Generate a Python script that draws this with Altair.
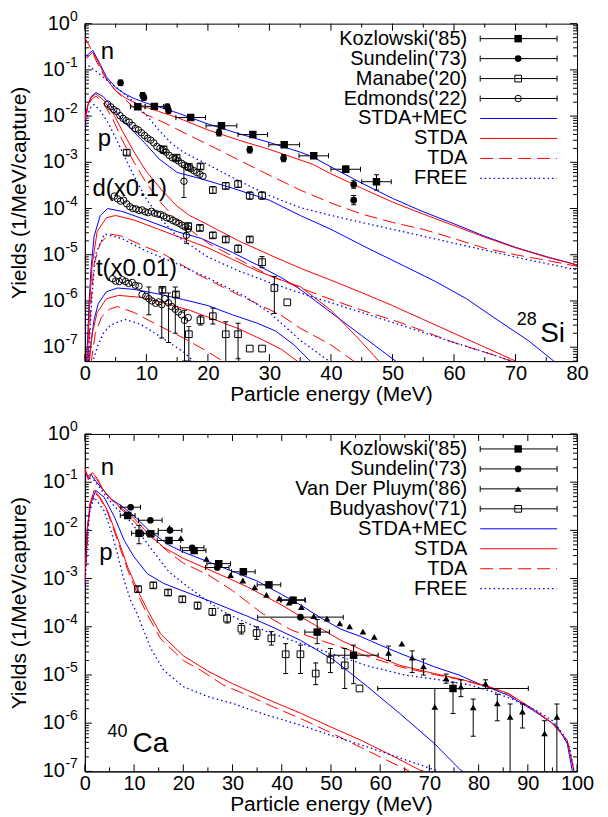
import altair as alt
import pandas as pd

FONT = "Liberation Sans"
BLUE = "#0000ff"
RED = "#ff0000"
W, H = 493, 338

# =================== 28Si panel : theory curves (E in MeV, log10 yield) ===================
si_n_mec_E = [0, 1.3, 2.5, 3.5, 5, 6.5, 8, 10, 12, 15, 20, 25, 30, 35, 37, 40, 45, 50, 55, 60, 65, 70, 75, 80]
si_n_mec_lg = [-0.72, -0.58, -0.88, -1.15, -1.38, -1.52, -1.62, -1.72, -1.80, -1.93, -2.17, -2.38, -2.57, -2.78, -2.88, -3.10, -3.45, -3.78, -4.07, -4.33, -4.60, -4.84, -5.04, -5.22]
si_n_stda_E = [0, 1.3, 2.5, 3.5, 5, 6.5, 8, 10, 12, 15, 20, 25, 30, 35, 37, 40, 45, 50, 55, 60, 65, 70, 75, 80]
si_n_stda_lg = [-0.78, -0.62, -0.92, -1.20, -1.45, -1.60, -1.70, -1.81, -1.90, -2.03, -2.30, -2.52, -2.72, -2.95, -3.04, -3.25, -3.56, -3.86, -4.12, -4.37, -4.62, -4.85, -5.05, -5.22]
si_n_tda_E = [0, 1, 2, 3, 5, 8, 10, 13, 17, 21, 25, 30, 35, 40, 45, 50, 55, 60, 65, 70, 75, 80]
si_n_tda_lg = [-0.30, -0.55, -0.85, -1.10, -1.45, -1.82, -1.97, -2.15, -2.42, -2.68, -2.95, -3.28, -3.60, -3.88, -4.12, -4.30, -4.45, -4.65, -4.86, -5.00, -5.12, -5.25]
si_n_free_E = [0, 2, 4, 6, 8, 10, 12, 14, 16, 20, 25, 30, 35, 40, 50, 60, 70, 80]
si_n_free_lg = [-0.85, -1.05, -1.27, -1.47, -1.70, -1.98, -2.30, -2.58, -2.78, -3.05, -3.40, -3.72, -3.98, -4.15, -4.45, -4.75, -5.05, -5.33]

si_p_mec_E = [0, 0.5, 1, 1.8, 3, 4.5, 6.5, 8, 10, 12, 15, 19, 24, 30, 35, 40, 46, 52, 57, 62, 67.5, 72, 76.5]
si_p_mec_lg = [-2.03, -1.75, -1.58, -1.49, -1.58, -1.82, -2.15, -2.35, -2.62, -2.92, -3.22, -3.36, -3.56, -3.82, -4.15, -4.45, -4.86, -5.25, -5.58, -5.95, -6.45, -6.85, -7.33]
si_p_stda_E = [0, 0.5, 1, 1.8, 3, 4.5, 6, 8, 10, 12.5, 15, 17, 20, 25, 30, 35, 40, 45, 50, 55, 60, 65, 70]
si_p_stda_lg = [-2.05, -1.77, -1.60, -1.52, -1.65, -1.92, -2.30, -2.78, -3.20, -3.60, -3.95, -4.15, -4.35, -4.70, -5.00, -5.29, -5.55, -5.82, -6.10, -6.40, -6.70, -7.00, -7.30]
si_p_tda_E = [0, 0.5, 1, 1.8, 3, 4.5, 6, 8, 10, 12.5, 15, 20, 25, 30, 38, 45, 52, 60, 66, 70]
si_p_tda_lg = [-2.10, -1.82, -1.65, -1.57, -1.72, -2.05, -2.50, -3.00, -3.45, -3.90, -4.25, -4.75, -5.10, -5.45, -5.87, -6.20, -6.50, -6.90, -7.15, -7.33]
si_p_free_E = [0, 0.5, 1, 1.5, 2.5, 4, 6, 8, 10, 12.5, 15, 20, 25, 30, 36, 45, 52, 60, 66, 70]
si_p_free_lg = [-2.30, -1.95, -1.80, -1.75, -1.88, -2.20, -2.75, -3.30, -3.80, -4.25, -4.60, -5.05, -5.35, -5.60, -5.87, -6.25, -6.55, -6.90, -7.15, -7.33]

si_d_mec_E = [0.3, 0.7, 1, 1.5, 2.5, 3.7, 6, 10, 15, 19, 24, 28, 32, 35, 40, 45, 50.8]
si_d_mec_lg = [-7.3, -6.0, -5.3, -4.6, -4.15, -4.0, -4.06, -4.25, -4.5, -4.65, -4.95, -5.22, -5.5, -5.75, -6.25, -6.75, -7.33]
si_d_stda_E = [0.4, 0.8, 1.2, 2, 3.5, 5, 8, 12, 16, 20, 24, 28, 32, 35, 40, 44, 48]
si_d_stda_lg = [-7.3, -6.0, -5.2, -4.5, -4.2, -4.15, -4.25, -4.45, -4.65, -4.85, -5.1, -5.35, -5.55, -5.69, -6.2, -6.75, -7.33]
si_d_tda_E = [0.5, 1, 1.5, 2.5, 4, 6, 9, 13, 18, 25, 31.8, 35, 40, 44]
si_d_tda_lg = [-7.3, -6.0, -5.2, -4.75, -4.55, -4.6, -4.78, -5.0, -5.4, -5.87, -6.3, -6.59, -6.95, -7.33]
si_d_free_E = [0.6, 1.1, 1.7, 3.2, 6, 10, 15, 20, 26, 30, 35, 40]
si_d_free_lg = [-7.3, -6.0, -5.0, -4.55, -4.65, -4.92, -5.2, -5.5, -5.9, -6.25, -6.85, -7.33]

si_t_mec_E = [0.6, 1, 1.5, 2.2, 3.5, 5.3, 8, 12, 16, 20, 24, 28, 31, 34, 37]
si_t_mec_lg = [-7.35, -6.9, -6.4, -6.05, -5.8, -5.72, -5.75, -5.85, -5.97, -6.1, -6.3, -6.48, -6.65, -6.95, -7.35]
si_t_stda_E = [0.7, 1.2, 2, 3.5, 5.5, 9, 13, 17, 21, 25, 29, 32, 35]
si_t_stda_lg = [-7.35, -6.7, -6.25, -5.95, -5.88, -5.92, -6.05, -6.2, -6.4, -6.6, -6.85, -7.05, -7.35]
si_t_tda_E = [1, 1.7, 2.7, 4, 5.3, 8, 11.8, 16, 20, 23]
si_t_tda_lg = [-7.35, -6.7, -6.35, -6.18, -6.12, -6.25, -6.52, -6.8, -7.1, -7.35]
si_t_free_E = [1.2, 2, 3, 4.2, 6.5, 9, 12, 16, 18]
si_t_free_lg = [-7.35, -7.0, -6.7, -6.52, -6.4, -6.5, -6.75, -7.1, -7.35]

# =================== 28Si panel : measured data ===================
si_koz_E = [8.6, 11.3, 17.2, 22.2, 27.3, 32.4, 37.2, 42.4, 47.4]
si_koz_lg = [-1.80, -1.79, -2.03, -2.21, -2.40, -2.62, -2.86, -3.15, -3.42]
si_koz_lo = [-1.84, -1.83, -2.07, -2.25, -2.44, -2.67, -2.92, -3.22, -3.60]
si_koz_hi = [-1.76, -1.75, -1.99, -2.17, -2.36, -2.57, -2.80, -3.08, -3.27]
si_koz_dE = [1.2, 1.5, 2.4, 2.5, 2.4, 2.5, 2.4, 2.4, 2.4]

si_sun_E = [5.8, 9.4, 9.6, 13.4, 13.6, 21.8, 26.8, 32.3, 43.7, 43.7]
si_sun_lg = [-1.28, -1.55, -1.60, -1.80, -1.88, -2.36, -2.73, -2.91, -3.48, -3.82]
si_sun_lo = [-1.34, -1.61, -1.66, -1.86, -1.94, -2.43, -2.80, -2.99, -3.56, -3.92]
si_sun_hi = [-1.22, -1.49, -1.54, -1.74, -1.82, -2.29, -2.66, -2.83, -3.40, -3.72]

si_manp_E = [6.8, 12.8, 14.9, 16.9, 18.8, 20.8, 22.9, 24.9, 26.8, 28.8]
si_manp_lg = [-2.79, -2.72, -2.90, -3.10, -3.09, -3.60, -3.51, -3.47, -3.72, -3.72]
si_manp_lo = [-2.85, -2.78, -2.96, -3.16, -3.15, -3.67, -3.58, -3.54, -3.80, -3.80]
si_manp_hi = [-2.73, -2.66, -2.84, -3.04, -3.03, -3.53, -3.44, -3.40, -3.64, -3.64]

si_mand_E = [16.8, 18.7, 20.8, 22.9, 24.9, 26.8, 28.8, 30.8, 32.9]
si_mand_lg = [-4.38, -4.42, -4.58, -4.67, -4.87, -4.67, -5.16, -5.72, -6.03]
si_mand_lo = [-4.44, -4.48, -4.64, -4.73, -4.95, -4.73, -5.28, -6.27, -6.03]
si_mand_hi = [-4.32, -4.36, -4.52, -4.61, -4.79, -4.61, -5.04, -5.47, -6.03]

si_mant_E = [12.6, 14.8, 16.9, 18.8, 20.8, 22.9, 24.9, 26.8, 28.8]
si_mant_lg = [-5.76, -5.86, -6.72, -6.42, -6.33, -6.72, -6.72, -7.03, -7.03]
si_mant_lo = [-5.82, -5.92, -7.30, -6.52, -6.50, -7.32, -7.25, -7.03, -7.03]
si_mant_hi = [-5.70, -5.80, -6.55, -6.32, -6.15, -6.45, -6.48, -7.03, -7.03]

si_edmp_E = [3.7, 4.2, 4.7, 5.2, 5.7, 6.2, 6.7, 7.2, 7.7, 8.2, 8.7, 9.2, 9.7, 10.2, 10.7, 11.2, 11.7, 12.2, 12.7, 13.2, 13.7, 14.2, 14.7, 15.2, 15.7, 16.2, 16.7, 17.2, 17.7, 18.2, 18.7, 19.2, 16.1]
si_edmp_lg = [-1.74, -1.80, -1.86, -1.90, -1.99, -2.05, -2.10, -2.13, -2.20, -2.27, -2.30, -2.36, -2.42, -2.48, -2.52, -2.58, -2.66, -2.70, -2.75, -2.78, -2.85, -2.90, -2.93, -2.97, -3.02, -3.06, -3.10, -3.14, -3.18, -3.22, -3.26, -3.30, -3.41]
si_edmp_lo = si_edmp_lg[:-1] + [-3.76]
si_edmp_hi = si_edmp_lg[:-1] + [-3.11]

si_edmd_E = [4.8, 5.3, 5.8, 6.3, 6.8, 7.3, 7.8, 8.3, 8.8, 9.3, 9.8, 10.3, 10.8, 11.3, 11.8, 12.3, 12.8, 13.3, 13.8, 14.3, 14.8, 15.3, 15.8, 16.3, 16.8, 16.5]
si_edmd_lg = [-3.73, -3.79, -3.84, -3.82, -3.90, -3.96, -4.00, -4.01, -4.04, -4.03, -4.07, -4.09, -4.06, -4.10, -4.12, -4.13, -4.16, -4.20, -4.22, -4.26, -4.29, -4.32, -4.36, -4.40, -4.44, -4.58]
si_edmd_lo = si_edmd_lg[:-1] + [-4.75]
si_edmd_hi = si_edmd_lg[:-1] + [-4.42]

si_edmt_E = [4.5, 5.0, 5.6, 6.1, 6.6, 7.1, 7.7, 8.2, 8.8, 9.3, 9.9, 10.4, 10.9, 11.5, 12.0, 12.5, 13.0, 13.6, 14.1, 14.7, 15.2, 15.7, 16.2, 16.8]
si_edmt_lg = [-5.52, -5.57, -5.58, -5.54, -5.58, -5.62, -5.60, -5.66, -5.68, -5.86, -5.90, -5.95, -6.00, -6.05, -6.02, -6.08, -5.95, -6.04, -6.12, -6.18, -6.24, -6.30, -6.42, -6.36]
si_edmt_lo = [-5.52, -5.57, -5.58, -5.54, -5.58, -5.62, -5.60, -5.66, -5.68, -5.86, -5.90, -6.30, -6.00, -6.05, -6.02, -6.80, -5.95, -6.90, -6.12, -6.70, -6.24, -6.30, -7.30, -6.36]
si_edmt_hi = [-5.52, -5.57, -5.58, -5.54, -5.58, -5.62, -5.60, -5.66, -5.68, -5.86, -5.90, -5.70, -6.00, -6.05, -6.02, -5.72, -5.95, -5.83, -6.12, -5.70, -6.24, -6.30, -6.20, -6.36]

# =================== 40Ca panel : theory curves ===================
ca_n_mec_E = [0, 0.6, 1.2, 2, 3.2, 5.3, 7.3, 10, 13, 17, 20, 25, 30, 35, 40, 44, 48, 52, 56, 60, 64, 71, 76, 80, 86, 91, 96, 98, 99, 99.4]
ca_n_mec_lg = [-0.85, -0.88, -0.83, -0.95, -1.10, -1.35, -1.48, -1.70, -2.0, -2.3, -2.45, -2.65, -2.85, -3.05, -3.33, -3.56, -3.82, -4.05, -4.2, -4.38, -4.55, -4.83, -5.0, -5.18, -5.42, -5.73, -6.07, -6.42, -6.97, -7.0]
ca_n_stda_E = [0, 0.7, 1.5, 2.5, 3.5, 5, 7, 10, 13, 16, 20, 26, 33, 40, 46, 52, 58, 64, 71, 76, 82, 86, 91, 95, 98, 99.4]
ca_n_stda_lg = [-0.75, -0.95, -0.80, -0.92, -1.12, -1.33, -1.5, -1.75, -2.08, -2.35, -2.58, -2.85, -3.17, -3.55, -3.92, -4.28, -4.56, -4.8, -4.97, -5.08, -5.24, -5.38, -5.70, -6.0, -6.35, -7.0]
ca_n_tda_E = [0, 0.8, 1.5, 2.5, 4, 6, 8, 11, 14, 17, 20, 25, 30, 36, 42, 47, 52, 57, 64, 71, 76, 82, 86, 91, 95, 98, 99.4]
ca_n_tda_lg = [-0.72, -0.92, -0.84, -0.95, -1.2, -1.43, -1.62, -1.92, -2.18, -2.45, -2.68, -2.92, -3.25, -3.72, -4.07, -4.25, -4.42, -4.6, -4.83, -4.99, -5.09, -5.25, -5.39, -5.71, -6.01, -6.36, -7.0]
ca_n_free_E = [0, 1, 2, 4, 6, 8.7, 11.4, 14, 17, 20, 24, 28, 32, 37, 44, 50, 57, 65, 72, 78, 83, 88, 92, 95, 97, 98.5, 99.4]
ca_n_free_lg = [-0.95, -0.92, -0.97, -1.25, -1.5, -1.75, -2.1, -2.45, -2.85, -3.1, -3.4, -3.68, -3.88, -4.1, -4.35, -4.55, -4.8, -5.0, -5.1, -5.2, -5.35, -5.55, -5.75, -5.95, -6.2, -6.5, -7.0]

ca_p_mec_E = [0, 0.5, 1.2, 2.2, 3.9, 6, 8, 10, 12.7, 16, 19.5, 26, 33, 38, 43.8, 50.6, 57.4, 64, 71, 76.3, 76.8]
ca_p_mec_lg = [-3.1, -1.93, -1.45, -1.17, -1.31, -1.72, -2.21, -2.55, -2.9, -3.1, -3.24, -3.49, -3.78, -4.0, -4.28, -4.69, -5.24, -5.8, -6.42, -6.97, -7.0]
ca_p_stda_E = [0, 0.5, 1, 1.9, 3, 4.6, 6.6, 8.7, 10.7, 12.7, 15.4, 20, 25, 30, 37, 44, 50, 56, 62, 68, 69]
ca_p_stda_lg = [-3.1, -2.0, -1.45, -1.17, -1.3, -1.59, -2.14, -2.76, -3.24, -3.65, -4.15, -4.6, -4.92, -5.18, -5.5, -5.8, -6.08, -6.35, -6.65, -6.97, -7.0]
ca_p_tda_E = [0, 0.5, 1, 1.9, 3, 4.6, 6.6, 8.7, 10.7, 12.7, 15.4, 20, 23.5, 28, 33.7, 38, 43.8, 50, 56, 62, 66]
ca_p_tda_lg = [-3.1, -2.05, -1.5, -1.2, -1.33, -1.62, -2.2, -2.82, -3.32, -3.75, -4.25, -4.7, -4.9, -5.2, -5.45, -5.65, -5.9, -6.2, -6.5, -6.8, -7.0]
ca_p_free_E = [0, 0.5, 1, 1.9, 3.9, 5.3, 6.6, 8, 9.3, 10.5, 13.4, 16, 20, 25, 30, 36, 43.8, 50, 57, 64, 72]
ca_p_free_lg = [-3.3, -2.2, -1.6, -1.31, -1.59, -2.0, -2.48, -3.05, -3.45, -3.7, -4.45, -4.9, -5.24, -5.45, -5.59, -5.8, -6.04, -6.25, -6.48, -6.72, -7.0]

# =================== 40Ca panel : measured data ===================
ca_koz_E = [8.7, 11.0, 13.4, 17.1, 22.2, 27.2, 32.2, 37.4, 42.3, 47.2, 54.6, 74.8]
ca_koz_lg = [-1.69, -2.06, -2.07, -2.21, -2.42, -2.69, -2.86, -3.13, -3.45, -4.11, -4.59, -5.28]
ca_koz_lo = [-1.73, -2.28, -2.11, -2.25, -2.46, -2.73, -2.90, -3.17, -3.50, -4.35, -5.18, -5.80]
ca_koz_hi = [-1.65, -1.90, -2.03, -2.17, -2.38, -2.65, -2.82, -3.09, -3.40, -3.85, -4.38, -5.15]
ca_koz_dE = [1.5, 1.5, 1.5, 2.4, 2.4, 2.4, 2.4, 2.4, 2.5, 2.5, 5.0, 15.3]

ca_sun_E = [9.3, 13.3, 17.3, 21.8, 26.9, 42.3, 43.8]
ca_sun_lg = [-1.52, -1.79, -2.00, -2.36, -2.77, -3.44, -3.80]
ca_sun_dE = [2.0, 2.4, 2.4, 2.4, 2.4, 2.4, 8.7]

ca_vdp_E = [17.2, 19.5, 24.7, 29.6, 32.1, 34.5, 36.9, 39.5, 41.5, 44.0, 46.5, 49.2, 51.8, 53.8, 56.5, 58.8, 61.7, 64.4, 66.5, 68.8, 71.1, 73.4, 76.4, 78.9, 81.4, 83.8, 86.4, 88.9, 93.4, 95.9]
ca_vdp_lg = [-1.95, -2.16, -2.59, -2.93, -3.04, -3.18, -3.34, -3.41, -3.50, -3.59, -3.78, -3.83, -3.93, -3.99, -4.10, -4.21, -4.54, -4.35, -4.64, -4.82, -5.66, -5.07, -5.24, -5.67, -5.18, -5.59, -5.87, -5.76, -6.21, -5.87]
ca_vdp_lo = [-1.95, -2.16, -2.59, -2.93, -3.04, -3.18, -3.34, -3.41, -3.50, -3.59, -3.78, -3.83, -3.93, -3.99, -4.10, -4.21, -4.70, -4.35, -4.95, -5.00, -7.00, -5.17, -5.45, -6.27, -5.28, -5.95, -7.00, -6.10, -7.00, -7.00]
ca_vdp_hi = [-1.95, -2.16, -2.59, -2.93, -3.04, -3.18, -3.34, -3.41, -3.50, -3.59, -3.78, -3.83, -3.93, -3.99, -4.10, -4.21, -4.40, -4.35, -4.50, -4.67, -5.28, -4.98, -5.10, -5.50, -5.10, -5.40, -5.60, -5.60, -5.95, -5.60]

ca_bud_E = [10.8, 13.9, 16.9, 19.8, 22.9, 25.9, 28.9, 31.8, 34.9, 37.9, 40.8, 43.8, 46.9, 49.9, 52.8, 55.8]
ca_bud_lg = [-3.22, -3.14, -3.29, -3.43, -3.56, -3.69, -3.83, -4.04, -4.13, -4.24, -4.57, -4.57, -4.97, -4.68, -4.80, -5.28]
ca_bud_lo = [-3.28, -3.20, -3.35, -3.49, -3.63, -3.76, -3.92, -4.15, -4.26, -4.38, -4.97, -4.97, -5.20, -4.95, -5.28, -5.28]
ca_bud_hi = [-3.16, -3.08, -3.23, -3.37, -3.49, -3.62, -3.74, -3.93, -4.00, -4.10, -4.35, -4.38, -4.75, -4.45, -4.45, -5.28]

# =================== axes / legend text ===================
si_x_major = [0, 10, 20, 30, 40, 50, 60, 70, 80]
si_x_minor = [5, 15, 25, 35, 45, 55, 65, 75]
ca_x_major = [0, 10, 20, 30, 40, 50, 60, 70, 80, 90, 100]
ca_x_minor = [5, 15, 25, 35, 45, 55, 65, 75, 85, 95]
y_major = [1, 1e-1, 1e-2, 1e-3, 1e-4, 1e-5, 1e-6, 1e-7]
y_exponent = ["0", "-1", "-2", "-3", "-4", "-5", "-6", "-7"]
y_minor_mult = [2, 3, 4, 5, 6, 7, 8, 9]
si_legend = ["Kozlowski('85)", "Sundelin('73)", "Manabe('20)", "Edmonds('22)", "STDA+MEC", "STDA", "TDA", "FREE"]
ca_legend = ["Kozlowski('85)", "Sundelin('73)", "Van Der Pluym('86)", "Budyashov('71)", "STDA+MEC", "STDA", "TDA", "FREE"]


def curve(E, lg, sp):
    return pd.DataFrame({"E": E, "Y": [10.0 ** v for v in lg], "sp": sp})


def pts(E, lg, lo=None, hi=None, dE=None):
    n = len(E)
    lo = lo if lo is not None else lg
    hi = hi if hi is not None else lg
    d = dE if dE is not None else [0] * n
    return pd.DataFrame({
        "E": E, "Y": [10.0 ** v for v in lg],
        "lo": [10.0 ** v for v in lo], "hi": [10.0 ** v for v in hi],
        "xlo": [e - x for e, x in zip(E, d)], "xhi": [e + x for e, x in zip(E, d)],
    })


def panel(xdom, ydom, xmaj, xmin, curves, datasets, legend_labels, legend_markers, texts):
    xs = alt.Scale(domain=xdom, nice=False, zero=False)
    ys = alt.Scale(type="log", domain=ydom, nice=False)
    xaxis = alt.Axis(values=xmaj, ticks=False, labelPadding=2, labelFlush=False, labelOverlap=False,
                     title="Particle energy (MeV)", titlePadding=0, grid=False, format="d")
    yaxis = alt.Axis(values=y_major, ticks=False, labels=False,
                     title="Yields (1/MeV/capture)", titlePadding=55, grid=False)
    X = lambda f: alt.X(f"{f}:Q", scale=xs, axis=xaxis)
    Y = lambda f: alt.Y(f"{f}:Q", scale=ys, axis=yaxis)
    layers = []

    ymin_vals = [m * v * 0.1 for v in y_major for m in y_minor_mult if ydom[0] <= m * v * 0.1 <= ydom[1]]
    xmajdf = pd.DataFrame({"v": xmaj})
    xmindf = pd.DataFrame({"v": xmin})
    ymajdf = pd.DataFrame({"v": y_major, "ex": y_exponent})
    ymindf = pd.DataFrame({"v": ymin_vals})
    # inward ticks on all four sides
    layers.append(alt.Chart(xmajdf).mark_rule(color="black").encode(x=X("v"), y=alt.value(H), y2=alt.value(H - 7)))
    layers.append(alt.Chart(xmajdf).mark_rule(color="black").encode(x=X("v"), y=alt.value(0), y2=alt.value(7)))
    layers.append(alt.Chart(xmindf).mark_rule(color="black").encode(x=X("v"), y=alt.value(H), y2=alt.value(H - 4)))
    layers.append(alt.Chart(xmindf).mark_rule(color="black").encode(x=X("v"), y=alt.value(0), y2=alt.value(4)))
    layers.append(alt.Chart(ymajdf).mark_rule(color="black").encode(y=Y("v"), x=alt.value(0), x2=alt.value(7)))
    layers.append(alt.Chart(ymajdf).mark_rule(color="black").encode(y=Y("v"), x=alt.value(W - 7), x2=alt.value(W)))
    layers.append(alt.Chart(ymindf).mark_rule(color="black").encode(y=Y("v"), x=alt.value(0), x2=alt.value(4)))
    layers.append(alt.Chart(ymindf).mark_rule(color="black").encode(y=Y("v"), x=alt.value(W - 4), x2=alt.value(W)))

    # y tick labels: "10" with a raised exponent
    ylab = alt.Chart(ymajdf).transform_calculate(lx="datum.ex == '0' ? -15 : -20")
    layers.append(ylab.mark_text(align="right", baseline="middle", fontSize=20, font=FONT, color="black").encode(
        x=alt.X("lx:Q", scale=None, axis=None), y=Y("v"), text=alt.value("10")))
    layers.append(ylab.mark_text(align="right", baseline="middle", fontSize=14, dy=-7, font=FONT,
                                 color="black").encode(x=alt.value(-7), y=Y("v"), text="ex:N"))

    # theory curves
    styles = [(BLUE, None, 1.0), (RED, None, 1.0), (RED, [13, 6], 1.0), (BLUE, [1.5, 3], 1.3)]
    for frames, (col, dash, sw) in zip(curves, styles):
        df = pd.concat(frames, ignore_index=True)
        kw = dict(color=col, strokeWidth=sw, clip=True)
        if dash:
            kw["strokeDash"] = dash
        layers.append(alt.Chart(df).mark_line(**kw).encode(x=X("E"), y=Y("Y"), detail="sp:N"))

    # measured data with error bars
    for df, shape, filled, size in datasets:
        base = alt.Chart(df)
        ye = base.transform_filter("datum.hi > datum.lo")
        layers.append(ye.mark_rule(color="black", strokeWidth=1, clip=True).encode(
            x=X("E"), y=Y("lo"), y2=alt.Y2("hi:Q")))
        for f in ("lo", "hi"):
            layers.append(ye.mark_tick(orient="horizontal", size=5, thickness=1, color="black", clip=True,
                                       opacity=1).encode(x=X("E"), y=Y(f)))
        xe = base.transform_filter("datum.xhi > datum.xlo")
        layers.append(xe.mark_rule(color="black", strokeWidth=1, clip=True).encode(
            x=X("xlo"), x2=alt.X2("xhi:Q"), y=Y("Y")))
        for f in ("xlo", "xhi"):
            layers.append(xe.mark_tick(orient="vertical", size=5, thickness=1, color="black", clip=True,
                                       opacity=1).encode(x=X(f), y=Y("Y")))
        layers.append(base.mark_point(shape=shape, filled=filled, size=size, color="black", strokeWidth=1,
                                      opacity=1, clip=True).encode(x=X("E"), y=Y("Y")))

    # annotations in data coordinates
    for txt, e, lg, fs in texts:
        tdf = pd.DataFrame({"E": [e], "Y": [10.0 ** lg], "t": [txt]})
        layers.append(alt.Chart(tdf).mark_text(align="left", baseline="alphabetic", fontSize=fs, font=FONT,
                                               color="black").encode(x=X("E"), y=Y("Y"), text="t:N"))

    # legend (pixel positions inside plot)
    ldf = pd.DataFrame({"row": list(range(len(legend_labels))), "label": legend_labels})
    leg = alt.Chart(ldf).transform_calculate(py="15 + 20 * datum.row", pt="12 + 20 * datum.row",
                                             pb="18 + 20 * datum.row")
    PY = alt.Y("py:Q", scale=None, axis=None)
    layers.append(leg.mark_text(align="right", baseline="middle", fontSize=20, font=FONT, color="black").encode(
        x=alt.value(383), y=PY, text="label:N"))
    mrk = leg.transform_filter("datum.row < 4")
    layers.append(mrk.mark_rule(color="black", strokeWidth=1).encode(x=alt.value(396), x2=alt.value(473), y=PY))
    for xv in (396, 473):
        layers.append(mrk.mark_rule(color="black", strokeWidth=1).encode(
            x=alt.value(xv), y=alt.Y("pt:Q", scale=None, axis=None), y2=alt.Y2("pb:Q")))
    for k, (shape, filled, size) in enumerate(legend_markers):
        layers.append(leg.transform_filter(f"datum.row == {k}").mark_point(
            shape=shape, filled=filled, size=size, color="black", strokeWidth=1, opacity=1).encode(
            x=alt.value(434), y=PY))
    for k, (col, dash, sw) in enumerate(styles):
        kw = dict(color=col, strokeWidth=sw)
        if dash:
            kw["strokeDash"] = dash
        layers.append(leg.transform_filter(f"datum.row == {k + 4}").mark_rule(**kw).encode(
            x=alt.value(396), x2=alt.value(473), y=PY))

    return alt.layer(*layers).properties(width=W, height=H)


si_curves = [
    [curve(si_n_mec_E, si_n_mec_lg, "n"), curve(si_p_mec_E, si_p_mec_lg, "p"),
     curve(si_d_mec_E, si_d_mec_lg, "d"), curve(si_t_mec_E, si_t_mec_lg, "t")],
    [curve(si_n_stda_E, si_n_stda_lg, "n"), curve(si_p_stda_E, si_p_stda_lg, "p"),
     curve(si_d_stda_E, si_d_stda_lg, "d"), curve(si_t_stda_E, si_t_stda_lg, "t")],
    [curve(si_n_tda_E, si_n_tda_lg, "n"), curve(si_p_tda_E, si_p_tda_lg, "p"),
     curve(si_d_tda_E, si_d_tda_lg, "d"), curve(si_t_tda_E, si_t_tda_lg, "t")],
    [curve(si_n_free_E, si_n_free_lg, "n"), curve(si_p_free_E, si_p_free_lg, "p"),
     curve(si_d_free_E, si_d_free_lg, "d"), curve(si_t_free_E, si_t_free_lg, "t")],
]
si_data = [
    (pts(si_koz_E, si_koz_lg, si_koz_lo, si_koz_hi, si_koz_dE), "square", True, 56),
    (pts(si_sun_E, si_sun_lg, si_sun_lo, si_sun_hi), "circle", True, 45),
    (pts(si_manp_E, si_manp_lg, si_manp_lo, si_manp_hi), "square", False, 45),
    (pts(si_mand_E, si_mand_lg, si_mand_lo, si_mand_hi), "square", False, 45),
    (pts(si_mant_E, si_mant_lg, si_mant_lo, si_mant_hi), "square", False, 45),
    (pts(si_edmp_E, si_edmp_lg, si_edmp_lo, si_edmp_hi), "circle", False, 42),
    (pts(si_edmd_E, si_edmd_lg, si_edmd_lo, si_edmd_hi), "circle", False, 42),
    (pts(si_edmt_E, si_edmt_lg, si_edmt_lo, si_edmt_hi), "circle", False, 42),
]
si_texts = [("n", 2.6, -0.76, 24), ("p", 2.1, -2.65, 24), ("d(x0.1)", 1.25, -3.72, 24),
            ("t(x0.01)", 1.8, -5.46, 24), ("28", 70.2, -6.52, 18), ("Si", 74.0, -6.88, 28)]

ca_curves = [
    [curve(ca_n_mec_E, ca_n_mec_lg, "n"), curve(ca_p_mec_E, ca_p_mec_lg, "p")],
    [curve(ca_n_stda_E, ca_n_stda_lg, "n"), curve(ca_p_stda_E, ca_p_stda_lg, "p")],
    [curve(ca_n_tda_E, ca_n_tda_lg, "n"), curve(ca_p_tda_E, ca_p_tda_lg, "p")],
    [curve(ca_n_free_E, ca_n_free_lg, "n"), curve(ca_p_free_E, ca_p_free_lg, "p")],
]
ca_data = [
    (pts(ca_bud_E, ca_bud_lg, ca_bud_lo, ca_bud_hi), "square", False, 45),
    (pts(ca_vdp_E, ca_vdp_lg, ca_vdp_lo, ca_vdp_hi), "triangle-up", True, 45),
    (pts(ca_sun_E, ca_sun_lg, None, None, ca_sun_dE), "circle", True, 45),
    (pts(ca_koz_E, ca_koz_lg, ca_koz_lo, ca_koz_hi, ca_koz_dE), "square", True, 56),
]
ca_texts = [("n", 3.25, -0.86, 24), ("p", 2.9, -2.62, 24), ("40", 4.6, -6.28, 18), ("Ca", 9.7, -6.59, 28)]

top = panel([0, 80], [5e-8, 1], si_x_major, si_x_minor, si_curves, si_data, si_legend,
            [("square", True, 56), ("circle", True, 45), ("square", False, 45), ("circle", False, 42)], si_texts)
bottom = panel([0, 100], [1e-7, 1], ca_x_major, ca_x_minor, ca_curves, ca_data, ca_legend,
               [("square", True, 56), ("circle", True, 45), ("triangle-up", True, 45), ("square", False, 45)], ca_texts)

chart = alt.vconcat(top, bottom, spacing=14).properties(
    padding={"left": 0, "top": 0, "right": 5, "bottom": 0}, background="white"
).configure_view(stroke="black", strokeWidth=1).configure_axis(
    labelFont=FONT, titleFont=FONT, labelColor="black", titleColor="black", domainColor="black",
    labelFontSize=20, titleFontSize=21, titleFontWeight="normal", domain=True
)

chart.save("out.html", embed_options={"renderer": "svg", "actions": False})
